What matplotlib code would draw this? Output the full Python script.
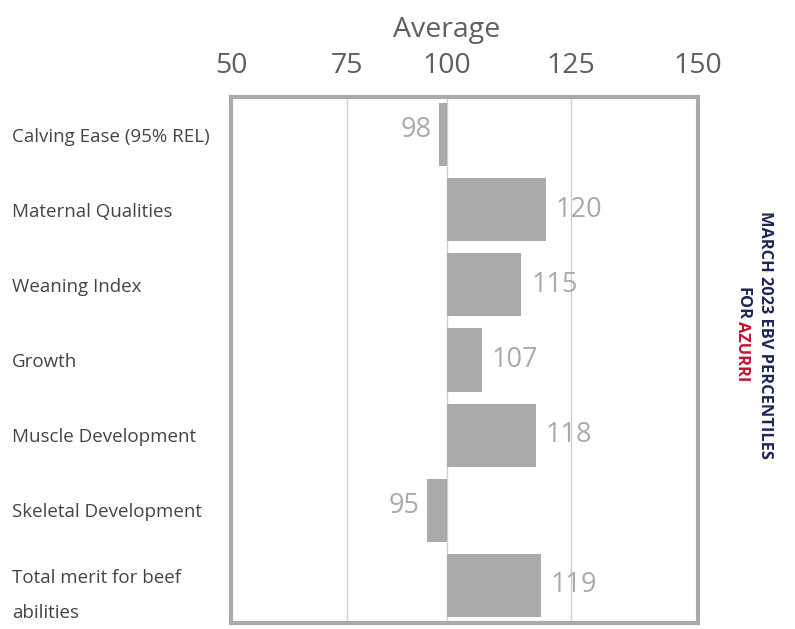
import matplotlib
matplotlib.use("Agg")
import matplotlib.pyplot as plt
import matplotlib.transforms as mtransforms
import numpy as np

plt.rcParams['font.family'] = ['Open Sans', 'DejaVu Sans']

categories = ["Calving Ease (95% REL)", "Maternal Qualities", "Weaning Index",
              "Growth", "Muscle Development", "Skeletal Development",
              "Total merit for beef\nabilities"]
values = [98, 120, 115, 107, 118, 95, 119]
ticks = [50, 75, 100, 125, 150]
# the original axis is not evenly spaced, so map tick values to where they sit
tick_pos = [231, 347, 447, 571, 698]

bar_grey = "#aaaaaa"
text_grey = "#5f5f5f"
navy = "#1c2556"
red = "#c8102e"

fig = plt.figure(figsize=(7.95, 6.29), dpi=100)
ax = fig.add_axes([231/795, 1 - 623/629, (698 - 231)/795, (623 - 97)/629])

ax.set_xscale('function', functions=(lambda x: np.interp(x, ticks, tick_pos),
                                     lambda p: np.interp(p, tick_pos, ticks)))
ax.set_xlim(50, 150)
ax.set_ylim(len(values) - 0.5, -0.5)

y = np.arange(len(values))
ax.barh(y, np.array(values) - 100, left=100, height=0.84, color=bar_grey, zorder=3)

for i, v in enumerate(values):
    if v >= 100:
        ax.annotate(str(v), (v, i), xytext=(7, 0), textcoords='offset points',
                    ha='left', va='center', fontsize=19.5, color=bar_grey, zorder=4)
    else:
        ax.annotate(str(v), (v, i), xytext=(-5, 3), textcoords='offset points',
                    ha='right', va='center', fontsize=19.5, color=bar_grey, zorder=4)

ax.set_xticks(ticks)
ax.xaxis.tick_top()
ax.tick_params(axis='x', length=0, pad=12, labelsize=20.5, labelcolor=text_grey)
for t in [75, 100, 125]:
    ax.axvline(t, color="#cfcfcf", linewidth=1, zorder=1)

ax.set_yticks(y)
ax.set_yticklabels(categories, fontsize=13.5, color="#444444", ha='left',
                   linespacing=2.2)
ax.tick_params(axis='y', length=0, pad=(231 - 12) * 0.72)

for s in ax.spines.values():
    s.set_color(bar_grey)
    s.set_linewidth(3)

trans = mtransforms.blended_transform_factory(ax.transData, fig.transFigure)
ax.text(100, 1 - 30/629, "Average", transform=trans, ha='center', va='center',
        fontsize=20.5, color=text_grey)

fig.text(765/795, 1 - 335/629, "MARCH 2023 EBV PERCENTILES", rotation=270,
         ha='center', va='center', fontsize=11.8, fontweight='bold',
         fontstretch='condensed', color=navy)
fig.text(742/795, 1 - 287/629, "FOR", rotation=270, ha='center', va='top',
         fontsize=11.8, fontweight='bold', fontstretch='condensed', color=navy)
fig.text(742/795, 1 - 321/629, "AZURRI", rotation=270, ha='center', va='top',
         fontsize=11.8, fontweight='bold', fontstretch='condensed', color=red)

fig.savefig("out.png", dpi=100)
